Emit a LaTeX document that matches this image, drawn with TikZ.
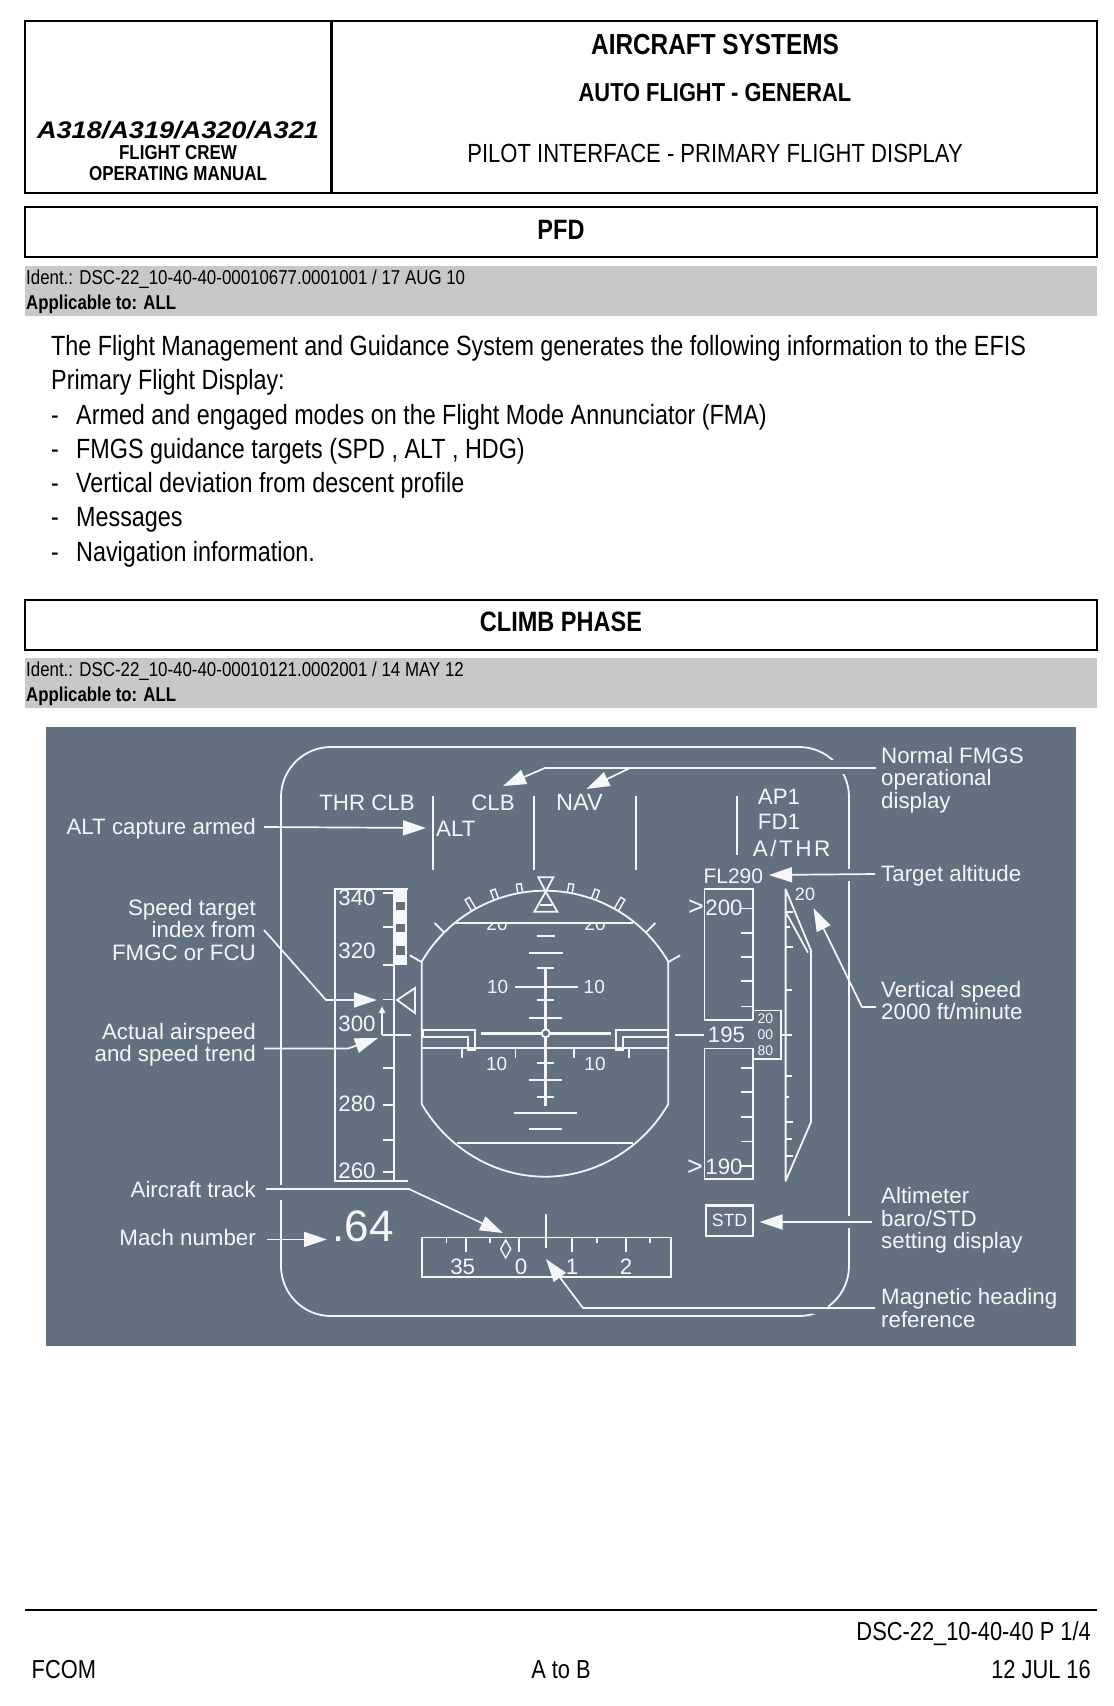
\documentclass[tikz,border=0pt]{standalone}
\usepackage{fontspec}
\usetikzlibrary{arrows.meta,shapes.geometric}
\setmainfont{Liberation Sans}
\newfontfamily\nar[FakeStretch=0.84]{Liberation Sans}
\newfontfamily\wid[FakeStretch=1.13]{Liberation Sans}
\definecolor{bgc}{HTML}{627080}
\definecolor{figw}{HTML}{F4F6F8}
\definecolor{band}{HTML}{C8C8C8}
\newcommand{\fsz}[1]{\fontsize{#1}{#1}\selectfont}
\tikzset{
  x=1pt,y=-1pt,
  pagebox/.style={draw=black,line width=2.2pt,fill=white},
  pagetxt/.style={inner sep=0pt,text=black,font=\nar\fsz{26.25}},
  headbold/.style={pagetxt,font=\nar\bfseries\fsz{28}},
  identtxt/.style={inner sep=0pt,anchor=base west,font=\nar\fsz{20.1}},
  applictxt/.style={inner sep=0pt,anchor=base west,font=\nar\bfseries\fsz{20}},
  bodytxt/.style={inner sep=0pt,anchor=base west,font=\nar\fsz{27.8}},
  lab/.style={inner sep=0pt,text=figw,font=\fsz{22.3},align=center},
  labR/.style={inner ysep=0pt,inner xsep=8pt,text=figw,font=\fontsize{22.3}{22.4}\selectfont,align=right,anchor=east},
  labL/.style={inner ysep=0pt,inner xsep=6pt,text=figw,font=\fontsize{22.3}{22.4}\selectfont,align=left,anchor=west},
  fg/.style={draw=figw,line width=1.8pt},
  fgt/.style={draw=figw,line width=1.4pt},
  leader/.style={draw=figw,line width=1.7pt,-{Triangle[length=23pt,width=15pt,fill=figw]},line join=round},
  gapfill/.style={fill=bgc,draw=none},
}
\begin{document}
\begin{tikzpicture}
\useasboundingbox (0,0) rectangle (1114,1706);
\fill[white] (0,0) rectangle (1114,1706);
% ---- header
\draw[pagebox] (25,21) rectangle (1097,193);
\draw[black,line width=2.2pt] (331.5,21) -- (331.5,193);
\node[inner sep=0pt,font=\wid\bfseries\itshape\fsz{24}] (tA) at (178,130) {A318/A319/A320/A321};
\node[headbold,font=\nar\bfseries\fsz{20.2}] (tF) at (178,153) {FLIGHT CREW};
\node[headbold,font=\nar\bfseries\fsz{20.2}] (tO) at (178,174) {OPERATING MANUAL};
\node[headbold,font=\nar\bfseries\fsz{29}] (tS) at (715,45) {AIRCRAFT SYSTEMS};
\node[headbold,font=\nar\bfseries\fsz{26}] (tG) at (715,93) {AUTO FLIGHT - GENERAL};
\node[pagetxt] (tP) at (715,153) {PILOT INTERFACE - PRIMARY FLIGHT DISPLAY};
% ---- PFD
\draw[pagebox] (25,207) rectangle (1097,257);
\node[headbold] (pfd) at (561,230) {PFD};
\fill[band] (25,266) rectangle (1097,316);
\node[identtxt] (i1) at (26,284) {Ident.: DSC-22\_10-40-40-00010677.0001001 / 17 AUG 10};
\node[applictxt] (a1) at (26,309) {Applicable to: ALL};
\node[bodytxt] (b1) at (51,355.5) {The Flight Management and Guidance System generates the following information to the EFIS};
\node[bodytxt] (b2) at (51,389.5) {Primary Flight Display:};
\foreach \n/\yy/\tx in {c/424/Armed and engaged modes on the Flight Mode Annunciator (FMA),d/458/{FMGS guidance targets (SPD , ALT , HDG)},e/492/Vertical deviation from descent profile,f/526/Messages,g/561/Navigation information.}{
  \node[bodytxt] (dash\n) at (51,\yy) {-};
  \node[bodytxt] (b\n) at (76,\yy) {\tx};
}
% ---- Climb
\draw[pagebox] (25,600) rectangle (1097,650);
\node[headbold] (clb) at (561,622) {CLIMB PHASE};
\fill[band] (25,658) rectangle (1097,708);
\node[identtxt] (i2) at (26,676) {Ident.: DSC-22\_10-40-40-00010121.0002001 / 14 MAY 12};
\node[applictxt] (a2) at (26,701) {Applicable to: ALL};
% ---- Figure
\fill[bgc] (46,727) rectangle (1076,1346);
% bezel
\draw[fg,rounded corners=50pt] (281,747) rectangle (849,1316);
\fill[gapfill] (830,760) rectangle (846,774);
\fill[gapfill] (812,1302) rectangle (828,1314);
\fill[gapfill] (276,1185) rectangle (286,1200);
\fill[gapfill] (844,869) rectangle (854,881);
\fill[gapfill] (844,1216) rectangle (854,1228);
% FMA
\node[lab] (thr) at (367,803) {THR CLB};
\node[lab,anchor=west] (alt) at (436,829) {ALT};
\node[lab] (clbm) at (493,803) {CLB};
\node[lab,font=\fsz{23.5}] (nav) at (579.5,802) {NAV};
\node[lab] (ap) at (779,797) {AP1};
\node[lab] (fd) at (779,822) {FD1};
\node[lab,font=\fsz{22.5}] (ath) at (791.5,848) {A\hspace{2.5pt}/\hspace{2.5pt}T\hspace{2.5pt}H\hspace{2.5pt}R};
\draw[fg] (432.7,795.5) -- (432.7,870);
\draw[fg] (534,795.5) -- (534,870);
\draw[fg] (635.6,795.5) -- (635.6,870);
\draw[fg] (737,795.5) -- (737,855);
% speed tape
\draw[fg] (408,889) -- (335,889) -- (335,1181) -- (408,1181);
\draw[fg] (394,889) -- (394,1181);
\fill[figw] (394,889) rectangle (407,965);
\foreach \a/\b in {901.6/910,924/932,946.4/954.6}{\fill[bgc] (396,\a) rectangle (405,\b);}
\foreach \yy in {892.6,927,965,999.5,1067.6,1105,1140,1172}{\draw[fg] (383,\yy) -- (394,\yy);}
\draw[fg] (382,1035) -- (411,1035);
\draw[fg,-{Triangle[length=7pt,width=6pt,fill=figw]}] (382,1035) -- (382,1006);
\draw[fg] (397,1000) -- (415,988) -- (415,1013) -- cycle;
\foreach \n/\v/\yy in {s34/340/898,s32/320/951,s30/300/1024,s28/280/1104,s26/260/1171}{\node[lab] (\n) at (357,\yy) {\v};}
% attitude sphere
\draw[fg] (421.7,1104) -- (421.7,961.7) .. controls (447.2,917.8) and (494.2,890.7) .. (545,890.7) .. controls (595.8,890.7) and (642.8,917.8) .. (668.3,961.7) -- (668.3,1104) .. controls (642.8,1148) and (595.8,1176.7) .. (545,1176.7) .. controls (494.2,1176.7) and (447.2,1148) .. (421.7,1104) -- cycle;
\begin{scope}
\clip (470,923) rectangle (620,940);
\node[lab,font=\fsz{19}] (p20l) at (497,924) {20};
\node[lab,font=\fsz{19}] (p20r) at (595,924) {20};
\end{scope}
\draw[fg] (455,922.7) -- (633,922.7);
\draw[fg] (457,1143) -- (633,1143);
\foreach \yy/\a/\b in {936/536.7/555,953/529/562.7,968/537/554,987/515/577.7,1000/537/554,1018/529/562,1062.7/537/554,1080/529/562,1096.7/537/554,1113/514/577.3,1128.7/529/562}{\draw[fg] (\a,\yy) -- (\b,\yy);}
\draw[figw,line width=2.6pt] (545.7,968) -- (545.7,1106);
\node[lab,font=\fsz{19}] (p10a) at (497.7,987) {10};
\node[lab,font=\fsz{19}] (p10b) at (594.3,987) {10};
\node[lab,font=\fsz{19}] (p10c) at (496.7,1064.3) {10};
\node[lab,font=\fsz{19}] (p10d) at (595,1064.3) {10};
\draw[figw,line width=3.2pt] (480.7,1033.3) -- (610.7,1033.3);
\draw[fg,fill=bgc] (545.7,1033.3) circle[radius=4];
\draw[fg] (423,1030) -- (475,1030) -- (475,1050) -- (468,1050) -- (468,1036.7) -- (423,1036.7) -- cycle;
\draw[fg] (668,1030) -- (616,1030) -- (616,1050) -- (622.7,1050) -- (622.7,1036.7) -- (668,1036.7) -- cycle;
\draw[fg] (421.7,1048.3) -- (668.3,1048.3);
\foreach \xx in {462,515.7,574,629}{\draw[fgt] (\xx,1049.3) -- (\xx,1058);}
% sky pointer
\draw[fg] (538.3,877.3) -- (553.3,877.3) -- (545.7,891.7) -- cycle;
\draw[fg] (545.7,891.7) -- (557.3,911.7) -- (534.3,911.7) -- cycle;
\draw[fgt] (540,905) -- (551.7,905);
% bank marks
\foreach \ang/\len in {-30/13,-20/10,-10/9,10/9,20/10,30/13}{
  \draw[fgt] ({545+sin(\ang)*142.6-2.4*cos(\ang)},{1033.3-cos(\ang)*142.6-2.4*sin(\ang)})
   -- ({545+sin(\ang)*(142.6+\len)-2.4*cos(\ang)},{1033.3-cos(\ang)*(142.6+\len)-2.4*sin(\ang)})
   -- ({545+sin(\ang)*(142.6+\len)+2.4*cos(\ang)},{1033.3-cos(\ang)*(142.6+\len)+2.4*sin(\ang)})
   -- ({545+sin(\ang)*142.6+2.4*cos(\ang)},{1033.3-cos(\ang)*142.6+2.4*sin(\ang)});
}
\foreach \ang in {-60,-45,45,60}{
  \draw[fg] ({545+sin(\ang)*142.6},{1033.3-cos(\ang)*142.6}) -- ({545+sin(\ang)*156},{1033.3-cos(\ang)*156});
}
% heading tape
\draw[fg] (421.7,1237.5) rectangle (670.7,1277);
\foreach \xx in {466,519,572,626}{\draw[fg] (\xx,1238) -- (\xx,1252);}
\foreach \xx in {446.7,490,597,650}{\draw[fgt] (\xx,1238) -- (\xx,1243);}
\draw[fg] (546,1213.7) -- (546,1248);
\foreach \n/\v/\xx in {h35/35/462.7,h0/0/521,h1/1/572,h2/2/626}{\node[lab] (\n) at (\xx,1266.5) {\v};}
\draw[fgt] (505.7,1240) -- (510.7,1249) -- (505.7,1258) -- (500.7,1249) -- cycle;
% altitude tape
\draw[fg] (753.3,1020) -- (704.4,1020) -- (704.4,889) -- (753.3,889) -- (753.3,1020);
\draw[fg] (753.3,1048.4) -- (704.4,1048.4) -- (704.4,1179) -- (753.3,1179) -- (753.3,1048.4);
\foreach \yy in {908.5,933,956.6,981,1006.4,1068,1092,1117,1141.5,1166}{\draw[fg] (741,\yy) -- (753,\yy);}
\node[lab] (a200) at (724,907.7) {200};
\node[lab] (a190) at (724,1167) {190};
\node[lab,font=\fsz{27}] (g200) at (696,907.7) {>};
\node[lab,font=\fsz{27}] (g190) at (695,1167.6) {>};
\node[lab] (a195) at (726.5,1035) {195};
\draw[fg] (675,1035) -- (704.4,1035);
\draw[fg] (753,1010.5) -- (781,1010.5) -- (781,1058.6) -- (753,1058.6);
\node[lab,font=\fsz{14}] (w20) at (765.3,1019) {20};
\node[lab,font=\fsz{14}] (w00) at (765.3,1034.5) {00};
\node[lab,font=\fsz{14}] (w80) at (765.3,1051) {80};
\node[lab,font=\fsz{21}] (fl) at (733.3,876) {FL290};
\draw[fg,line width=2.2pt] (706,1205.5) rectangle (753,1236);
\node[lab,font=\fsz{17.7}] (std) at (729.5,1220.5) {STD};
% VSI
\draw[fg,line join=round] (785.6,889.3) -- (785.6,1181) -- (811,1122) -- (811,950.5) -- cycle;
\draw[fg] (785.6,911.8) -- (808,952.6);
\foreach \yy/\xx in {911.8/793,927/790,947/793,990/792,1075.8/792,1097/789,1122/793,1139/792,1156/793}{\draw[fg] (785.6,\yy) -- (\xx,\yy);}
\draw[fg] (781,1035) -- (792,1035);
\node[lab,font=\fsz{18}] (v20) at (805,894) {20};
% labels
\node[labR] (lAlt) at (264,829) {ALT capture armed};
\node[labR] (lSpd) at (264,930) {Speed target\\index from\\FMGC or FCU};
\node[labR] (lAsp) at (264,1044.5) {Actual airspeed\\and speed trend};
\node[labR] (lTrk) at (264,1190) {Aircraft track};
\node[labR] (lMach) at (264,1238) {Mach number};
\node[labL] (lNorm) at (875,780) {Normal FMGS\\operational\\display};
\node[labL] (lTgt) at (875,876) {Target altitude};
\node[labL] (lVs) at (875,1000.5) {Vertical speed\\2000 ft/minute};
\node[labL] (lBaro) at (875,1220.5) {Altimeter\\baro/STD\\setting display};
\node[labL] (lMag) at (875,1308) {Magnetic heading\\reference};
\node[lab,font=\fsz{44}] (mach) at (363,1226) {.64};
% leader coordinates
\coordinate (sAlt) at (264,827);
\coordinate (tAlt) at (426,828);
\coordinate (sNorm) at (876,768);
\coordinate (jA) at (545,768);
\coordinate (tClb) at (503,786);
\coordinate (jB) at (630,768);
\coordinate (tNav) at (586.5,789);
\coordinate (sTgt) at (875,874);
\coordinate (tFl) at (769,875);
\coordinate (sVs) at (876,1007);
\coordinate (jVs) at (862,1007);
\coordinate (tVs) at (813.5,908);
\coordinate (sBaro) at (872,1222);
\coordinate (tStd) at (759.5,1222);
\coordinate (jMag) at (583,1308);
\coordinate (tMag) at (546,1259);
\coordinate (jSpd) at (326,1000);
\coordinate (tSpd) at (377,1000);
\coordinate (sAsp) at (264,1048.5);
\coordinate (jAsp) at (348,1048.5);
\coordinate (tAsp) at (378,1038);
\coordinate (sTrk) at (266,1189);
\coordinate (jTrk) at (409,1189);
\coordinate (tTrk) at (503,1233);
\coordinate (sMach) at (267,1239.4);
\coordinate (tMach) at (327,1239.4);
\draw[leader] (sAlt) -- (tAlt);
\draw[leader] (sNorm) -- (jA) -- (tClb);
\draw[leader] (jB) -- (tNav);
\draw[leader] (sTgt) -- (tFl);
\draw[leader] (sVs) -- (jVs) -- (tVs);
\draw[leader] (sBaro) -- (tStd);
\draw[leader] (lMag.west) -- (jMag) -- (tMag);
\draw[leader] (lSpd.east) -- (jSpd) -- (tSpd);
\draw[leader] (sAsp) -- (jAsp) -- (tAsp);
\draw[leader] (sTrk) -- (jTrk) -- (tTrk);
\draw[leader] (sMach) -- (tMach);
% ---- footer
\draw[black,line width=1.6pt] (25,1610) -- (1097,1610);
\node[pagetxt,anchor=east,font=\nar\fsz{26}] (fA) at (1091,1633.5) {DSC-22\_10-40-40 P 1/4};
\node[pagetxt,anchor=west,font=\nar\fsz{26}] (fB) at (31.5,1670) {FCOM};
\node[pagetxt,font=\nar\fsz{26}] (fC) at (561,1670) {A to B};
\node[pagetxt,anchor=east,font=\nar\fsz{26}] (fD) at (1091,1670) {12 JUL 16};
\end{tikzpicture}
\end{document}
